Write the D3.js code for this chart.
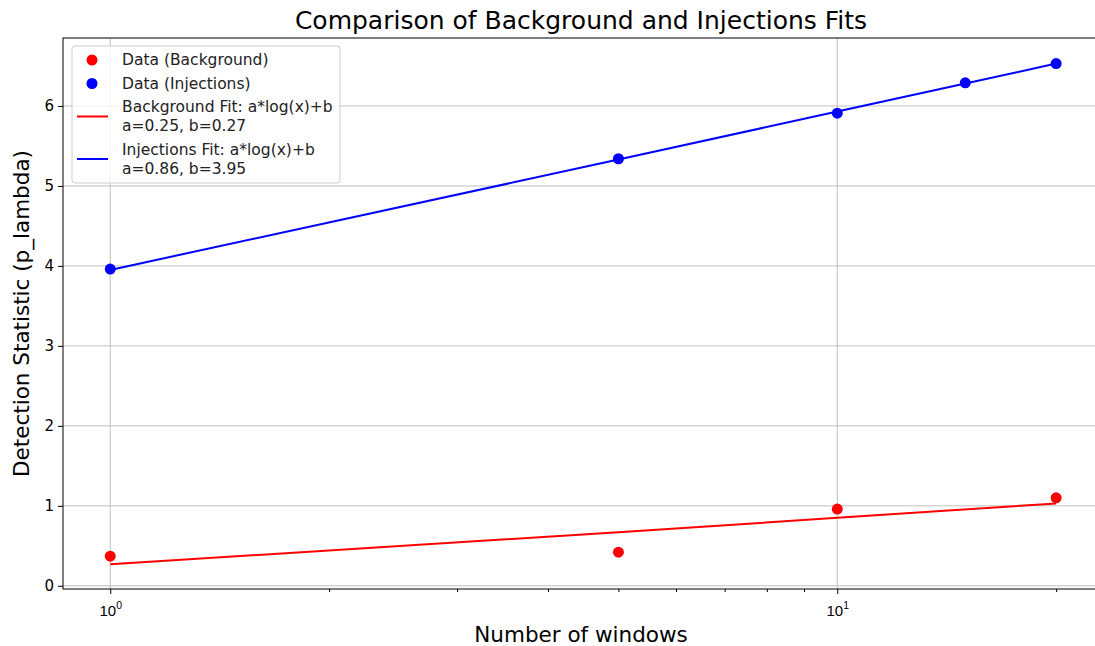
<!DOCTYPE html>
<html>
<head>
<meta charset="utf-8">
<script src="https://cdn.jsdelivr.net/npm/d3@7"></script>
<style>
  body { margin: 0; background: #fff; }
  svg { font-family: "DejaVu Sans", sans-serif; }
</style>
</head>
<body>
<div id="chart"></div>
<script>
// data
const bgWindows = [1, 5, 10, 20];
const bgValues = [0.37, 0.42, 0.96, 1.10];
const injWindows = [1, 5, 10, 15, 20];
const injValues = [3.96, 5.34, 5.91, 6.29, 6.53];
const bgFitValues = [0.27, 0.67, 0.85, 1.03];
const injFitValues = [3.95, 5.33, 5.93, 6.28, 6.53];
const yTicks = [0, 1, 2, 3, 4, 5, 6];
const xMajor = [1, 10];
const xMinor = [2, 3, 4, 5, 6, 7, 8, 9, 20];
const legendItems = [
  {kind: 'dot', color: 'red', lines: ['Data (Background)']},
  {kind: 'dot', color: 'blue', lines: ['Data (Injections)']},
  {kind: 'line', color: 'red', lines: ['Background Fit: a*log(x)+b', 'a=0.25, b=0.27']},
  {kind: 'line', color: 'blue', lines: ['Injections Fit: a*log(x)+b', 'a=0.86, b=3.95']}
];

const W = 1095, H = 646;
const m = {left: 63, top: 38, right: 1103, bottom: 589};

const svg = d3.select('#chart').append('svg')
  .attr('width', W).attr('height', H);

const x = d3.scaleLog().domain([0.861, 23.2]).range([m.left, m.right]);
const y = d3.scaleLinear().domain([-0.04, 6.85]).range([m.bottom, m.top]);

// grid
const grid = svg.append('g');
grid.selectAll('.gy').data(yTicks).join('line')
  .attr('x1', m.left).attr('x2', m.right)
  .attr('y1', d => y(d)).attr('y2', d => y(d))
  .attr('stroke', '#b0b0b0').attr('stroke-width', 0.8);
grid.selectAll('.gx').data(xMajor).join('line')
  .attr('x1', d => x(d)).attr('x2', d => x(d))
  .attr('y1', m.top).attr('y2', m.bottom)
  .attr('stroke', '#b0b0b0').attr('stroke-width', 0.8);

// axes
const yAxis = d3.axisLeft(y).tickValues(yTicks).tickSize(5).tickPadding(4).tickFormat(d3.format('d'));
const gy = svg.append('g').attr('transform', `translate(${m.left},0)`).call(yAxis);
gy.select('.domain').remove();
gy.selectAll('text').attr('font-size', 15).attr('fill', '#000').attr('font-family', 'DejaVu Sans');

const xAxisMinor = d3.axisBottom(x).tickValues(xMinor).tickSize(3).tickFormat('');
const gxm = svg.append('g').attr('transform', `translate(0,${m.bottom})`).call(xAxisMinor);
gxm.select('.domain').remove();

const xAxis = d3.axisBottom(x).tickValues(xMajor).tickSize(5).tickFormat('');
const gx = svg.append('g').attr('transform', `translate(0,${m.bottom})`).call(xAxis);
gx.select('.domain').remove();
gx.selectAll('.tick').append('text')
  .attr('y', 27).attr('fill', '#000').attr('font-size', 15).attr('text-anchor', 'middle')
  .each(function(d) {
    const t = d3.select(this);
    t.append('tspan').text('10');
    t.append('tspan').attr('dy', -7).attr('font-size', 10.5).text(Math.round(Math.log10(d)));
  });

// frame
svg.append('rect')
  .attr('x', m.left).attr('y', m.top)
  .attr('width', m.right - m.left).attr('height', m.bottom - m.top)
  .attr('fill', 'none').attr('stroke', '#000').attr('stroke-width', 1);

// fit lines
const line = d3.line().x(d => x(d[0])).y(d => y(d[1]));
svg.append('path').datum(d3.zip(bgWindows, bgFitValues))
  .attr('d', line).attr('fill', 'none').attr('stroke', 'red').attr('stroke-width', 2);
svg.append('path').datum(d3.zip(injWindows, injFitValues))
  .attr('d', line).attr('fill', 'none').attr('stroke', 'blue').attr('stroke-width', 2);

// points
svg.append('g').selectAll('circle').data(d3.zip(bgWindows, bgValues)).join('circle')
  .attr('cx', d => x(d[0])).attr('cy', d => y(d[1])).attr('r', 5.5).attr('fill', 'red');
svg.append('g').selectAll('circle').data(d3.zip(injWindows, injValues)).join('circle')
  .attr('cx', d => x(d[0])).attr('cy', d => y(d[1])).attr('r', 5.5).attr('fill', 'blue');

// legend
const lg = svg.append('g');
lg.append('rect')
  .attr('x', 72).attr('y', 46).attr('width', 268).attr('height', 137).attr('rx', 3)
  .attr('fill', '#fff').attr('fill-opacity', 0.8).attr('stroke', '#cccccc');
let ly = 60;
legendItems.forEach(it => {
  const n = it.lines.length;
  const cy = ly + (n - 1) * 9.5;
  if (it.kind === 'dot') {
    lg.append('circle').attr('cx', 92).attr('cy', cy).attr('r', 5.5).attr('fill', it.color);
  } else {
    lg.append('line').attr('x1', 77).attr('x2', 108).attr('y1', cy).attr('y2', cy)
      .attr('stroke', it.color).attr('stroke-width', 2);
  }
  it.lines.forEach((s, i) => {
    lg.append('text').attr('x', 122).attr('y', ly + i * 19).attr('dy', '0.35em')
      .attr('font-size', 15.5).attr('fill', '#222').text(s);
  });
  ly += n * 19 + 4.5;
});

// titles
svg.append('text').attr('x', 581).attr('y', 29).attr('text-anchor', 'middle')
  .attr('font-size', 25).attr('fill', '#000').text('Comparison of Background and Injections Fits');
svg.append('text').attr('x', 581).attr('y', 642).attr('text-anchor', 'middle')
  .attr('font-size', 21.5).attr('fill', '#000').text('Number of windows');
svg.append('text').attr('transform', `translate(29,${(m.top + m.bottom) / 2}) rotate(-90)`)
  .attr('text-anchor', 'middle').attr('font-size', 21.5).attr('fill', '#000')
  .text('Detection Statistic (p_lambda)');
</script>
</body>
</html>
